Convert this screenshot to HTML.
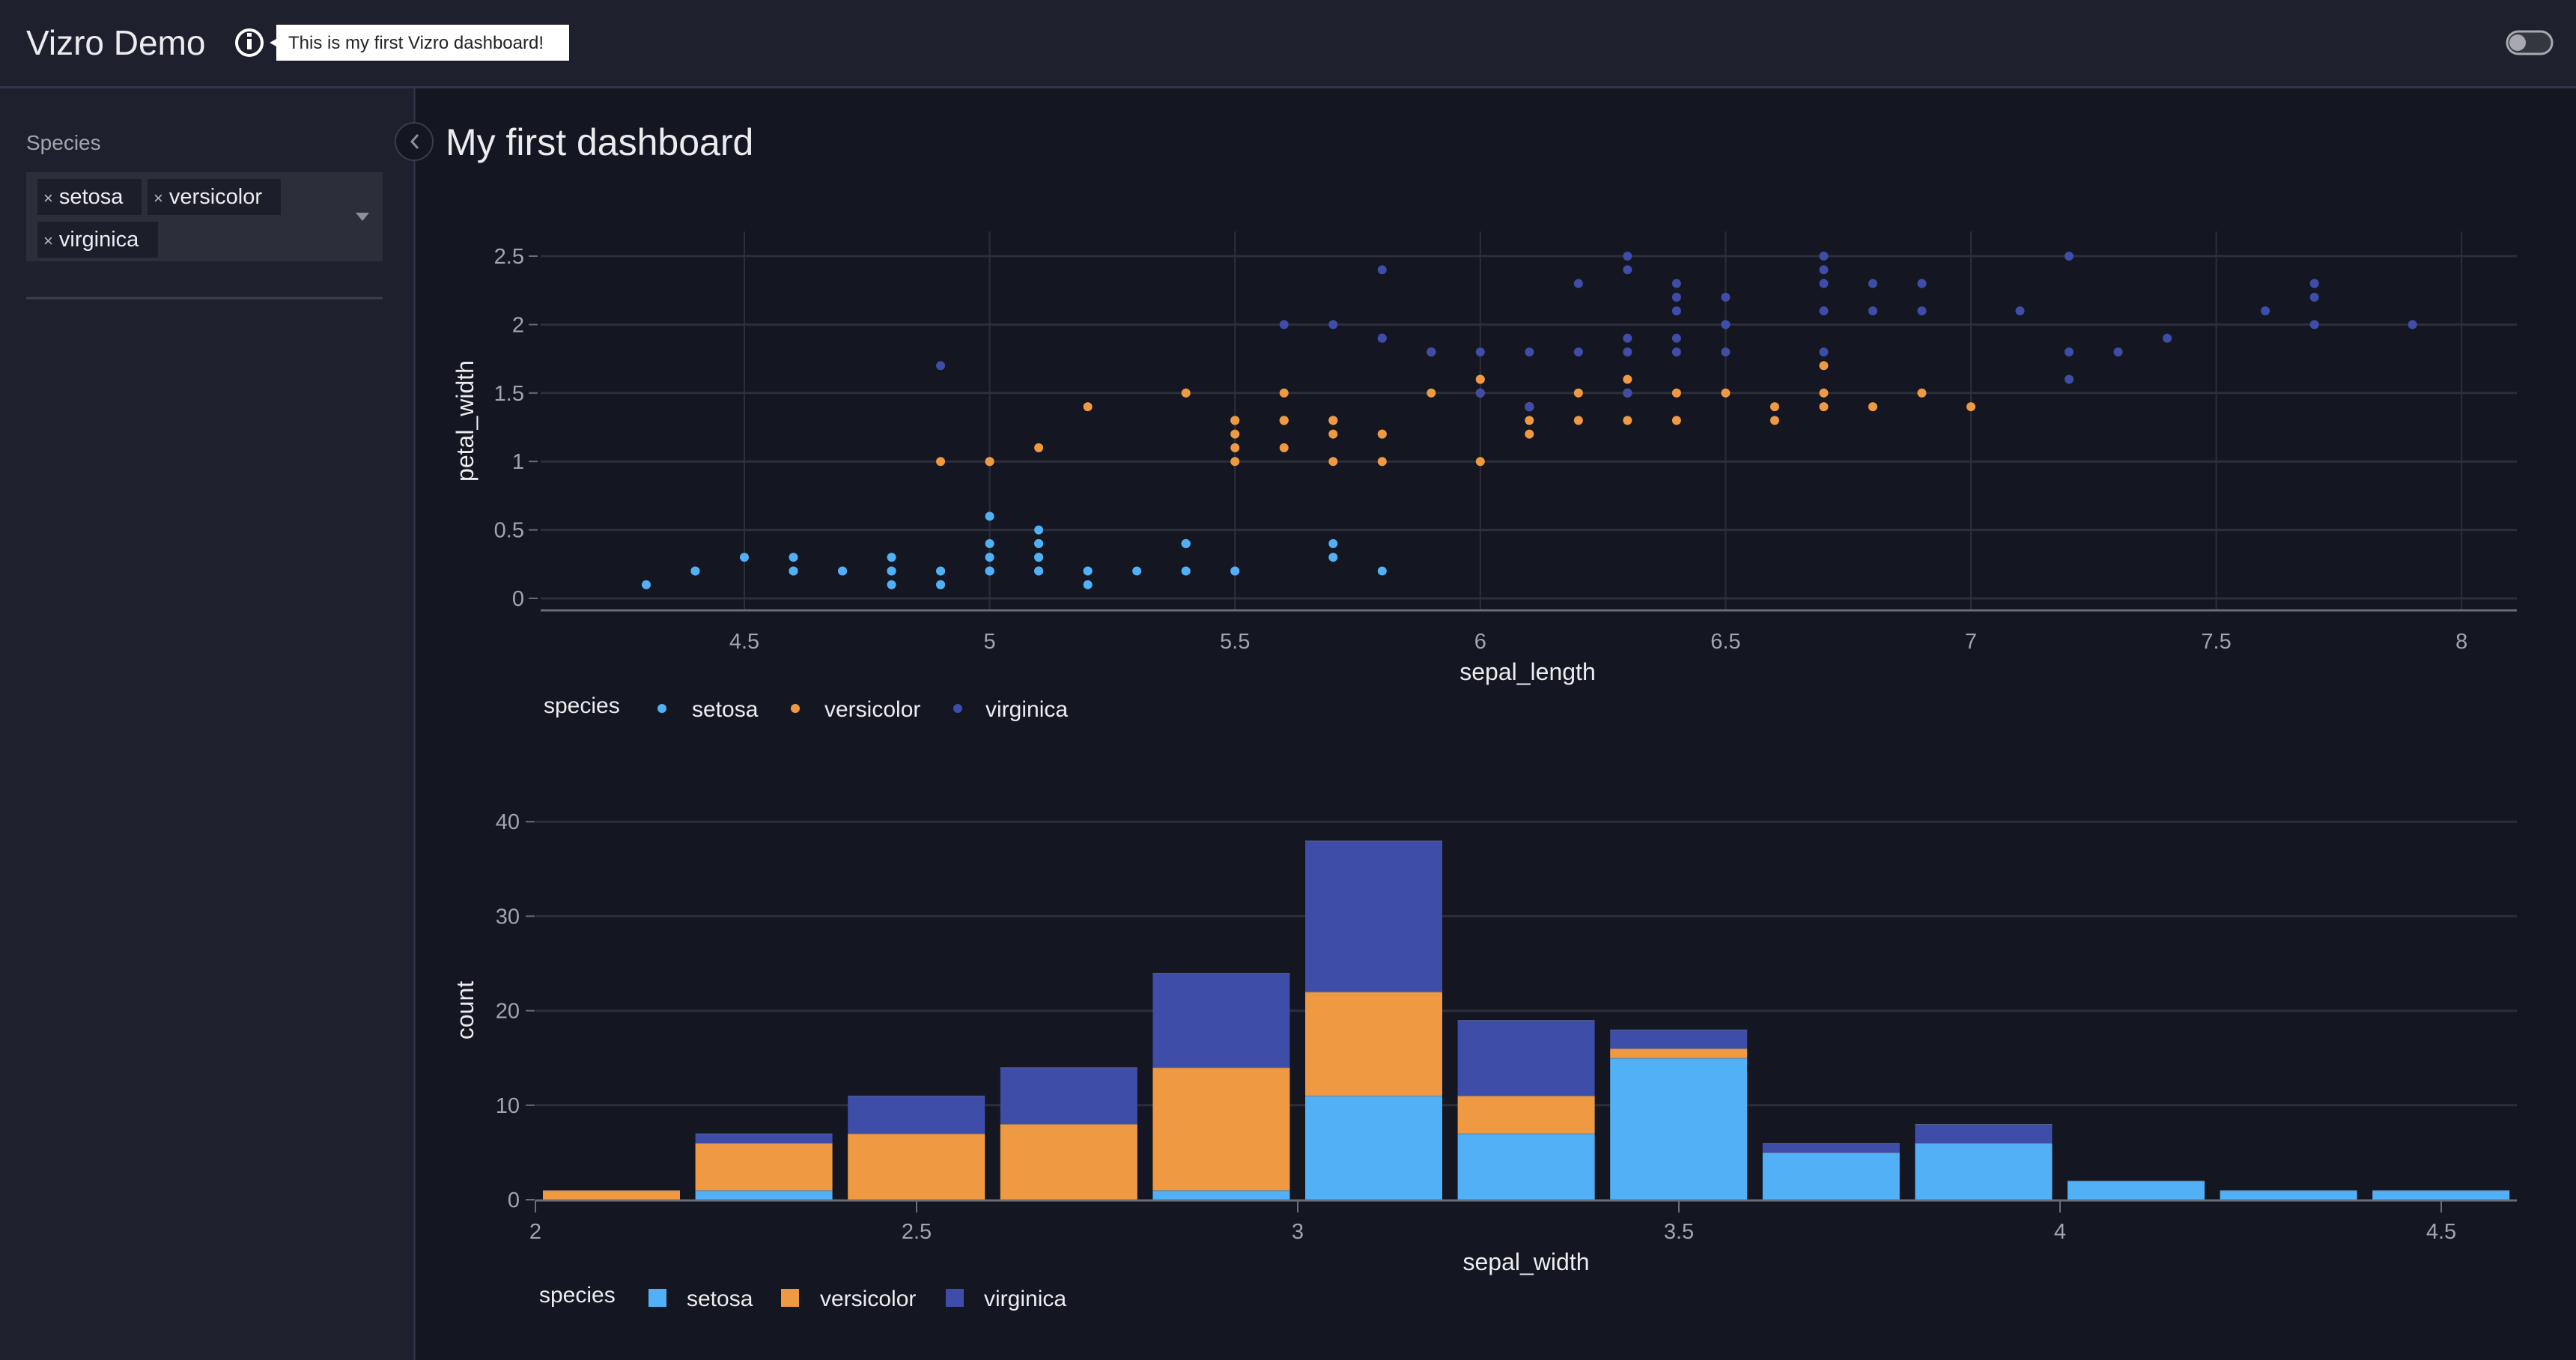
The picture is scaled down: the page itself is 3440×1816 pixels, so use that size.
<!DOCTYPE html>
<html><head><meta charset="utf-8">
<style>
html,body{margin:0;padding:0;width:3440px;height:1816px;overflow:hidden;background:#141721;font-family:"Liberation Sans",sans-serif;}
</style></head>
<body>
<svg id="s" width="3440" height="1816" xmlns="http://www.w3.org/2000/svg" style="position:absolute;left:0;top:0;font-family:'Liberation Sans',sans-serif">
<rect x="0" y="0" width="3440" height="1816" fill="#141721"/>
<rect x="0" y="0" width="3440" height="116" fill="#1e212d"/>
<rect x="0" y="116" width="553" height="1700" fill="#1e212d"/>
<line x1="0" y1="116.5" x2="3440" y2="116.5" stroke="#33364a" stroke-width="3"/>
<line x1="553.5" y1="116" x2="553.5" y2="1816" stroke="#33364a" stroke-width="2"/>
<text x="35" y="73" font-size="46" fill="#ececf0">Vizro Demo</text>
<circle cx="333" cy="57" r="17" fill="none" stroke="#fff" stroke-width="4"/>
<rect x="330" y="52" width="6" height="14" fill="#fff"/><rect x="330" y="44" width="6" height="5" fill="#fff"/>
<rect x="369" y="33" width="391" height="48" fill="#fff"/>
<polygon points="369,52 360,57 369,62" fill="#fff"/>
<text x="385" y="65" font-size="24" fill="#222">This is my first Vizro dashboard!</text>
<rect x="3348" y="42" width="60" height="30" rx="15" fill="#35373f" stroke="#a8a9b0" stroke-width="3"/>
<circle cx="3362" cy="57" r="11" fill="#a8a9b0"/>
<text x="35" y="200" font-size="28" fill="#a3a5ad">Species</text>
<rect x="35" y="230" width="476" height="119" fill="#2c2f3a"/>
<rect x="50" y="239" width="139" height="48" fill="#1c1f2a"/>
<rect x="197" y="239" width="178" height="48" fill="#1c1f2a"/>
<rect x="50" y="296" width="161" height="48" fill="#1c1f2a"/>
<g font-size="29" fill="#ececf0">
<text x="58" y="272"><tspan font-size="22" fill="#bbb">×</tspan> setosa</text>
<text x="205" y="272"><tspan font-size="22" fill="#bbb">×</tspan> versicolor</text>
<text x="58" y="329"><tspan font-size="22" fill="#bbb">×</tspan> virginica</text>
</g>
<polygon points="475,284 493,284 484,295" fill="#8e9099"/>
<line x1="35" y1="398" x2="511" y2="398" stroke="#3a3d4a" stroke-width="3"/>
<circle cx="553" cy="189" r="25" fill="#141721" stroke="#3a3d4a" stroke-width="2"/>
<polyline points="558,180 550,189 558,198" fill="none" stroke="#8e9099" stroke-width="3"/>
<text x="595" y="207" font-size="50" fill="#ececf0">My first dashboard</text>
<g id="sc"></g>
<g id="hi"></g>
</svg>
<script>
var NS="http://www.w3.org/2000/svg";
function el(p,t,a,txt){var e=document.createElementNS(NS,t);for(var k in a)e.setAttribute(k,a[k]);if(txt!==undefined)e.textContent=txt;p.appendChild(e);return e;}
var C=["#52b0f6","#ef9a43","#3e4da8"];
var sc=document.getElementById("sc");
function sx(v){return 994+(v-4.5)*655.2;} function sy(v){return 799-v*182.8;}
[4.5,5,5.5,6,6.5,7,7.5,8].forEach(function(v){var x=sx(v);el(sc,"line",{x1:x,y1:309,x2:x,y2:814,stroke:"#2c2f3a","stroke-width":2});el(sc,"text",{x:x,y:866,"font-size":29,fill:"#a3a5ad","text-anchor":"middle"},String(v));});
[0,0.5,1,1.5,2,2.5].forEach(function(v){var y=sy(v);el(sc,"line",{x1:722,y1:y,x2:3361,y2:y,stroke:"#2c2f3a","stroke-width":3});el(sc,"line",{x1:706,y1:y,x2:718,y2:y,stroke:"#6a6d78","stroke-width":2});el(sc,"text",{x:700,y:y+10,"font-size":29,fill:"#a3a5ad","text-anchor":"end"},String(v));});
el(sc,"line",{x1:722,y1:815,x2:3361,y2:815,stroke:"#6a6d78","stroke-width":3});
el(sc,"text",{x:2040,y:908,"font-size":32,fill:"#ececf0","text-anchor":"middle"},"sepal_length");
el(sc,"text",{x:0,y:0,"font-size":32,fill:"#ececf0","text-anchor":"middle",transform:"translate(632,562) rotate(-90)"},"petal_width");
var D=[
[5.1,.2,4.9,.2,4.7,.2,4.6,.2,5,.2,5.4,.4,4.6,.3,5,.2,4.4,.2,4.9,.1,5.4,.2,4.8,.2,4.8,.1,4.3,.1,5.8,.2,5.7,.4,5.4,.4,5.1,.3,5.7,.3,5.1,.3,5.4,.2,5.1,.4,4.6,.2,5.1,.5,4.8,.2,5,.2,5,.4,5.2,.2,5.2,.2,4.7,.2,4.8,.2,5.4,.4,5.2,.1,5.5,.2,4.9,.2,5,.2,5.5,.2,4.9,.1,4.4,.2,5.1,.2,5,.3,4.5,.3,4.4,.2,5,.6,5.1,.4,4.8,.3,5.1,.2,4.6,.2,5.3,.2,5,.2],
[7,1.4,6.4,1.5,6.9,1.5,5.5,1.3,6.5,1.5,5.7,1.3,6.3,1.6,4.9,1,6.6,1.3,5.2,1.4,5,1,5.9,1.5,6,1,6.1,1.4,5.6,1.3,6.7,1.4,5.6,1.5,5.8,1,6.2,1.5,5.6,1.1,5.9,1.8,6.1,1.3,6.3,1.5,6.1,1.2,6.4,1.3,6.6,1.4,6.8,1.4,6.7,1.7,6,1.5,5.7,1,5.5,1.1,5.5,1,5.8,1.2,6,1.6,5.4,1.5,6,1.6,6.7,1.5,6.3,1.3,5.6,1.3,5.5,1.3,5.5,1.2,6.1,1.4,5.8,1.2,5,1,5.6,1.3,5.7,1.2,5.7,1.3,6.2,1.3,5.1,1.1,5.7,1.3],
[6.3,2.5,5.8,1.9,7.1,2.1,6.3,1.8,6.5,2.2,7.6,2.1,4.9,1.7,7.3,1.8,6.7,1.8,7.2,2.5,6.5,2,6.4,1.9,6.8,2.1,5.7,2,5.8,2.4,6.4,2.3,6.5,1.8,7.7,2.2,7.7,2.3,6,1.5,6.9,2.3,5.6,2,7.7,2,6.3,1.8,6.7,2.1,7.2,1.8,6.2,1.8,6.1,1.8,6.4,2.1,7.2,1.6,7.4,1.9,7.9,2,6.4,2.2,6.3,1.5,6.1,1.4,7.7,2.3,6.3,2.4,6.4,1.8,6,1.8,6.9,2.1,6.7,2.4,6.9,2.3,5.8,1.9,6.8,2.3,6.7,2.5,6.7,2.3,6.3,1.9,6.5,2,6.2,2.3,5.9,1.8]];
D.forEach(function(a,i){for(var j=0;j<a.length;j+=2)el(sc,"circle",{cx:sx(a[j]),cy:sy(a[j+1]),r:6,fill:C[i]});});
var names=["setosa","versicolor","virginica"];
el(sc,"text",{x:726,y:952,"font-size":30,fill:"#ececf0"},"species");
[[884,924],[1062,1101],[1279,1316]].forEach(function(p,i){el(sc,"circle",{cx:p[0],cy:946,r:6,fill:C[i]});el(sc,"text",{x:p[1],y:957,"font-size":30,fill:"#ececf0"},names[i]);});
var hi=document.getElementById("hi");
function hx(v){return 715+(v-2)*1018;} function hy(c){return 1602-c*12.62;}
[10,20,30,40].forEach(function(c){var y=hy(c);el(hi,"line",{x1:715,y1:y,x2:3361,y2:y,stroke:"#2c2f3a","stroke-width":3});});
[0,10,20,30,40].forEach(function(c){var y=hy(c);el(hi,"line",{x1:702,y1:y,x2:714,y2:y,stroke:"#6a6d78","stroke-width":2});el(hi,"text",{x:694,y:y+10,"font-size":29,fill:"#a3a5ad","text-anchor":"end"},String(c));});
var B=[[0,1,0],[1,5,1],[0,7,4],[0,8,6],[1,13,10],[11,11,16],[7,4,8],[15,1,2],[5,0,1],[6,0,2],[2,0,0],[1,0,0],[1,0,0]];
B.forEach(function(b,i){var x0=hx(2+i*0.2)+10,w=183,acc=0;for(var k=0;k<3;k++){if(b[k]>0){var y1=hy(acc+b[k]),y0=hy(acc);el(hi,"rect",{x:x0,y:y1,width:w,height:y0-y1,fill:C[k]});el(hi,"line",{x1:x0,y1:y1+0.5,x2:x0+w,y2:y1+0.5,stroke:"#6a6d78","stroke-width":1,opacity:.6});acc+=b[k];}}});
el(hi,"line",{x1:715,y1:1603,x2:3361,y2:1603,stroke:"#6a6d78","stroke-width":3});
[2,2.5,3,3.5,4,4.5].forEach(function(v){var x=hx(v);el(hi,"line",{x1:x,y1:1603,x2:x,y2:1619,stroke:"#6a6d78","stroke-width":2});el(hi,"text",{x:x,y:1654,"font-size":29,fill:"#a3a5ad","text-anchor":"middle"},String(v));});
el(hi,"text",{x:2038,y:1696,"font-size":32,fill:"#ececf0","text-anchor":"middle"},"sepal_width");
el(hi,"text",{x:0,y:0,"font-size":32,fill:"#ececf0","text-anchor":"middle",transform:"translate(632,1349) rotate(-90)"},"count");
el(hi,"text",{x:720,y:1739,"font-size":30,fill:"#ececf0"},"species");
[[878,917],[1055,1095],[1275,1314]].forEach(function(p,i){el(hi,"rect",{x:p[0]-12,y:1721,width:24,height:24,fill:C[i]});el(hi,"text",{x:p[1],y:1744,"font-size":30,fill:"#ececf0"},names[i]);});
</script>
</body></html>
